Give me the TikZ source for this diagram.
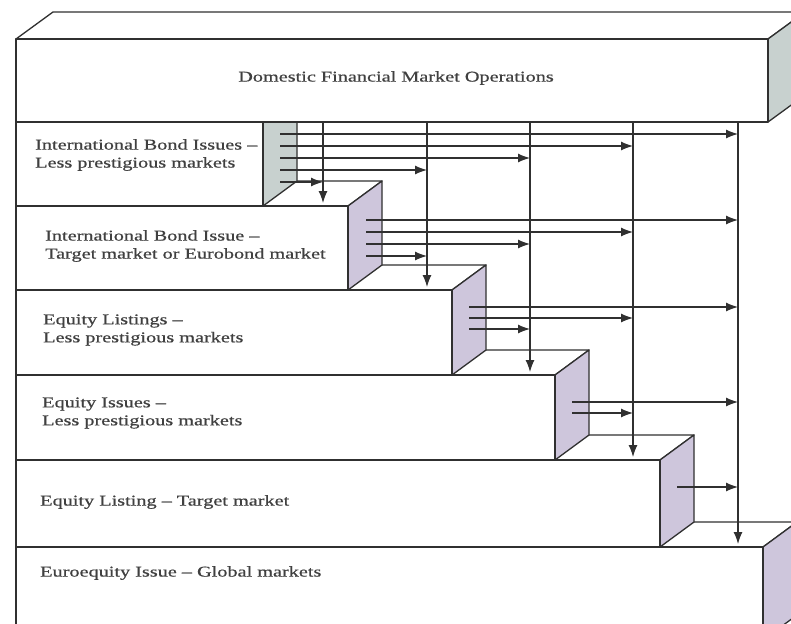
\documentclass[tikz,border=0pt]{standalone}
\usepackage{fontspec}
\setmainfont{Liberation Serif}[FakeStretch=1.35,FakeBold=0.6]
\usetikzlibrary{arrows.meta}
\definecolor{edge}{HTML}{303030}
\definecolor{txt}{HTML}{404040}
\definecolor{sidepurple}{HTML}{CEC6DC}
\definecolor{sidegray}{HTML}{C8D1CF}
\tikzset{
  slabline/.style={draw=edge, line width=1.3pt, line join=round},
  steplabel/.style={text=txt, font=\fontsize{15}{18}\selectfont, align=left, anchor=west, inner sep=0pt},
  flow/.style={draw=edge, line width=1.2pt, -{Latex[length=12pt,width=9pt]}},
}
\newcommand\drawslab[4]{%
  \filldraw[slabline, fill=white] (16,#2) -- (50,#2-25) -- (#1+34,#2-25) -- (#1,#2) -- cycle;
  \filldraw[slabline, fill=#4] (#1,#2) -- (#1+34,#2-25) -- (#1+34,#3-25) -- (#1,#3) -- cycle;
  \filldraw[slabline, fill=white] (16,#2) rectangle (#1,#3);
}
\begin{document}
\begin{tikzpicture}[x=1pt,y=-1pt]
\useasboundingbox (0,0) rectangle (791,623);
\fill[white] (0,0) rectangle (791,623);
\begin{scope}
  \clip (0,0) rectangle (791,623);
  \drawslab{763}{547}{640}{sidepurple}
  \drawslab{660}{460}{547}{sidepurple}
  \drawslab{555}{375}{460}{sidepurple}
  \drawslab{452}{290}{375}{sidepurple}
  \drawslab{348}{206}{290}{sidepurple}
  \drawslab{263}{122}{206}{sidegray}
  % top slab
  \filldraw[slabline, fill=white] (16,39) -- (53,12) -- (805,12) -- (768,39) -- cycle;
  \filldraw[slabline, fill=sidegray] (768,39) -- (805,12) -- (805,95) -- (768,122) -- cycle;
  \filldraw[slabline, fill=white] (16,39) rectangle (768,122);
\end{scope}

% labels
\node[steplabel, anchor=center] (dom) at (396,78) {Domestic Financial Market Operations};
\node[steplabel] (s1) at (35,155) {International Bond Issues –\\Less prestigious markets};
\node[steplabel] (s2) at (45,246) {International Bond Issue –\\Target market or Eurobond market};
\node[steplabel] (s3) at (43,330) {Equity Listings –\\Less prestigious markets};
\node[steplabel] (s4) at (42,413) {Equity Issues –\\Less prestigious markets};
\node[steplabel] (s5) at (40,502) {Equity Listing – Target market};
\node[steplabel] (s6) at (40,573) {Euroequity Issue – Global markets};

% vertical lines from the top slab
\coordinate (v1) at (323,122); \coordinate (e1) at (323,203);
\coordinate (v2) at (427,122); \coordinate (e2) at (427,287);
\coordinate (v3) at (530,122); \coordinate (e3) at (530,372);
\coordinate (v4) at (633,122); \coordinate (e4) at (633,457);
\coordinate (v5) at (738,122); \coordinate (e5) at (738,544);
\foreach \i in {1,...,5} { \draw[flow] (v\i) -- (e\i); }

% horizontal arrows
\foreach \y/\t in {134/5,146/4,158/3,170/2,182/1} {
  \coordinate (ha\t) at (280,\y); \draw[flow] (ha\t) -- (ha\t -| v\t);
}
\foreach \y/\t in {220/5,232/4,244/3,256/2} {
  \coordinate (hb\t) at (366,\y); \draw[flow] (hb\t) -- (hb\t -| v\t);
}
\foreach \y/\t in {307/5,318/4,329/3} {
  \coordinate (hc\t) at (469,\y); \draw[flow] (hc\t) -- (hc\t -| v\t);
}
\foreach \y/\t in {402/5,413/4} {
  \coordinate (hd\t) at (572,\y); \draw[flow] (hd\t) -- (hd\t -| v\t);
}
\coordinate (he5) at (677,487); \draw[flow] (he5) -- (he5 -| v5);
\end{tikzpicture}
\end{document}
